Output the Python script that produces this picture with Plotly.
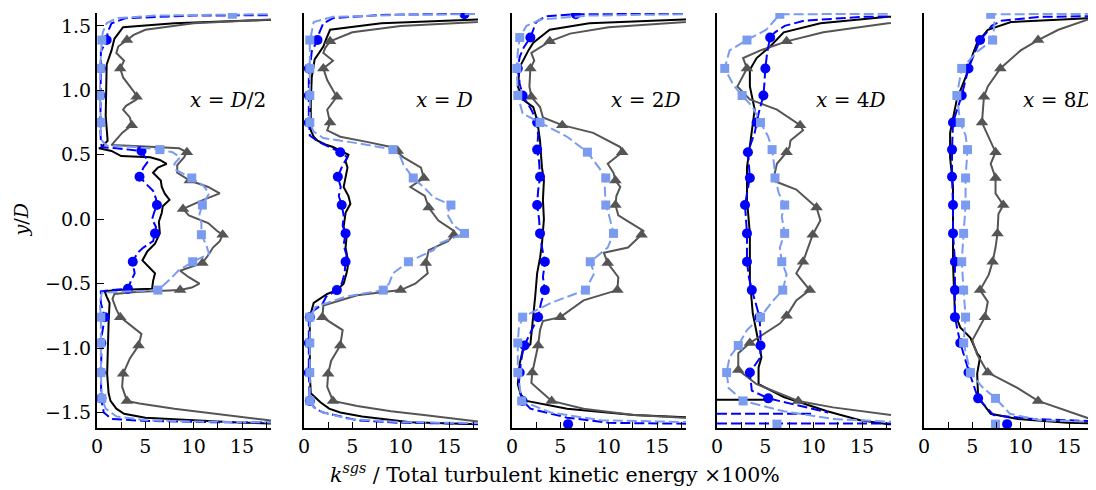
import plotly.graph_objects as go

# ---------------- data: (y/D, value) pairs ----------------
PANEL_LABELS = ["<i>x</i> = <i>D</i>/2", "<i>x</i> = <i>D</i>", "<i>x</i> = 2<i>D</i>",
                "<i>x</i> = 4<i>D</i>", "<i>x</i> = 8<i>D</i>"]
X_TICKS = [0, 5, 10, 15]
X_TICK_TEXT = ["0", "5", "10", "15"]
X_MINOR_TICKS = [2.5, 7.5, 12.5, 17.5]
Y_TICKS = [-1.5, -1.0, -0.5, 0.0, 0.5, 1.0, 1.5]
Y_TICK_TEXT = ["\u22121.5", "\u22121.0", "\u22120.5", "0.0", "0.5", "1.0", "1.5"]

# Panel 1: x = D/2
P1_BLACK = [(1.565, 22), (1.547, 18), (1.52, 8), (1.49, 2.7), (1.40, 1.8), (1.31, 1.5), (1.2, 1.0), (1.0, 0.95),
            (0.8, 0.9), (0.61, 1.1), (0.56, 0.5), (0.55, 0.2), (0.53, 1.5), (0.49, 2.5), (0.48, 5.5), (0.46, 6.5),
            (0.43, 7.2), (0.40, 6.3), (0.36, 5.8), (0.30, 6.6), (0.25, 6.7), (0.20, 7.0), (0.15, 7.5), (0.10, 6.8),
            (0.05, 6.7), (-0.02, 6.4), (-0.11, 6.5), (-0.19, 6.0), (-0.25, 5.2), (-0.32, 4.7), (-0.37, 5.3),
            (-0.42, 6.0), (-0.48, 5.8), (-0.54, 5.7), (-0.55, 2.0), (-0.56, 0.8), (-0.60, 1.0), (-0.65, 1.3),
            (-0.8, 1.2), (-1.0, 1.1), (-1.2, 1.05), (-1.35, 1.2), (-1.41, 1.4), (-1.47, 2.0), (-1.51, 2.8),
            (-1.54, 5.0), (-1.56, 9.6), (-1.575, 14), (-1.585, 18), (-1.59, 22)]
P1_GRAY = [(1.57, 22), (1.55, 18), (1.52, 10), (1.47, 5), (1.43, 3.8), (1.39, 3.1), (1.34, 2.2), (1.29, 2.0),
           (1.23, 2.8), (1.17, 2.4), (1.10, 2.7), (1.03, 3.4), (0.96, 4.1), (0.93, 4.1), (0.88, 3.0), (0.85, 2.7),
           (0.79, 3.4), (0.73, 3.6), (0.67, 2.6), (0.61, 1.9), (0.575, 1.5), (0.565, 5.0), (0.55, 8.5), (0.52, 9.3),
           (0.48, 9.0), (0.42, 8.3), (0.36, 8.3), (0.30, 9.6), (0.25, 11.5), (0.2, 12.7), (0.15, 11.0), (0.08, 8.9),
           (0.03, 9.5), (-0.03, 11.5), (-0.09, 12.4), (-0.12, 13.0), (-0.17, 12.7), (-0.22, 12.0), (-0.28, 11.5),
           (-0.34, 10.9), (-0.4, 8.6), (-0.45, 9.5), (-0.5, 10.6), (-0.53, 9.8), (-0.55, 8.6), (-0.565, 4.0),
           (-0.58, 1.8), (-0.62, 1.6), (-0.7, 2.0), (-0.76, 2.4), (-0.83, 3.6), (-0.89, 4.6), (-0.98, 4.3),
           (-1.08, 3.4), (-1.2, 2.7), (-1.3, 2.6), (-1.41, 3.1), (-1.43, 4.4), (-1.47, 8), (-1.5, 11.3),
           (-1.53, 15), (-1.56, 17.8), (-1.58, 22)]
P1_GRAY_MK = [(1.39, 3.1), (1.17, 2.4), (0.95, 4.1), (0.73, 3.6), (0.52, 9.3), (0.30, 9.6), (0.08, 8.9),
              (-0.12, 13.0), (-0.34, 10.9), (-0.55, 8.6), (-0.76, 2.4), (-0.98, 4.3), (-1.2, 2.7), (-1.41, 3.1)]
P1_BLUE = [(1.585, 22), (1.58, 10), (1.56, 3), (1.52, 1.5), (1.45, 1.1), (1.39, 1.0), (1.3, 0.4), (1.0, 0.35),
           (0.7, 0.35), (0.6, 0.4), (0.56, 0.5), (0.55, 2.0), (0.53, 4.6), (0.50, 4.8), (0.45, 5.3), (0.40, 4.8),
           (0.33, 4.4), (0.28, 5.0), (0.22, 5.8), (0.16, 6.1), (0.11, 6.2), (0.05, 5.9), (0.0, 5.7), (-0.06, 6.1),
           (-0.11, 6.0), (-0.17, 5.8), (-0.22, 4.8), (-0.26, 4.2), (-0.33, 3.7), (-0.38, 3.8), (-0.42, 3.9),
           (-0.48, 3.5), (-0.54, 3.2), (-0.55, 1.5), (-0.56, 0.4), (-0.65, 0.4), (-0.76, 0.8), (-0.9, 0.5),
           (-1.2, 0.4), (-1.4, 0.45), (-1.5, 0.7), (-1.55, 1.5), (-1.565, 5), (-1.575, 12), (-1.58, 22)]
P1_BLUE_MK = [(1.39, 1.0), (1.17, 0.4), (0.96, 0.35), (0.75, 0.35), (0.53, 4.6), (0.33, 4.4), (0.11, 6.2),
              (-0.11, 6.0), (-0.33, 3.7), (-0.54, 3.2), (-0.76, 0.8), (-0.96, 0.45), (-1.19, 0.4), (-1.39, 0.45)]
P1_LIGHT = [(1.595, 22), (1.59, 14), (1.58, 6), (1.56, 2), (1.52, 1.0), (1.45, 0.6), (1.39, 0.5), (1.2, 0.35),
            (0.96, 0.3), (0.75, 0.4), (0.62, 0.4), (0.57, 1.0), (0.56, 4.0), (0.54, 6.5), (0.52, 7.8), (0.48, 8.6),
            (0.43, 8.0), (0.38, 8.2), (0.32, 9.8), (0.26, 11.0), (0.2, 11.6), (0.15, 11.2), (0.11, 10.9),
            (0.04, 10.6), (-0.03, 10.8), (-0.12, 10.8), (-0.2, 11.3), (-0.27, 11.6), (-0.33, 9.9), (-0.4, 8.4),
            (-0.47, 7.5), (-0.55, 6.3), (-0.56, 3.0), (-0.57, 0.5), (-0.65, 0.3), (-0.76, 0.4), (-0.96, 0.4),
            (-1.19, 0.4), (-1.39, 0.5), (-1.47, 0.9), (-1.53, 2.0), (-1.56, 5), (-1.57, 10), (-1.58, 22)]
P1_LIGHT_MK = [(1.59, 14), (1.39, 0.5), (1.17, 0.35), (0.96, 0.3), (0.75, 0.4), (0.54, 6.5), (0.32, 9.8),
               (0.11, 10.9), (-0.12, 10.8), (-0.33, 9.9), (-0.55, 6.3), (-0.76, 0.4), (-0.96, 0.4), (-1.19, 0.4),
               (-1.39, 0.5)]

# Panel 2: x = D
P2_BLACK = [(1.565, 22), (1.55, 18), (1.52, 8), (1.47, 2.7), (1.40, 2.3), (1.34, 2.0), (1.24, 1.1), (1.1, 0.8),
            (0.9, 0.7), (0.69, 0.7), (0.64, 1.0), (0.61, 1.4), (0.58, 2.2), (0.56, 3.0), (0.50, 4.6), (0.45, 4.3),
            (0.40, 4.5), (0.32, 4.3), (0.25, 4.1), (0.18, 4.6), (0.12, 4.8), (0.05, 4.3), (-0.06, 4.1),
            (-0.14, 4.4), (-0.22, 4.3), (-0.34, 4.6), (-0.42, 4.4), (-0.5, 4.1), (-0.55, 3.4), (-0.58, 2.4),
            (-0.62, 1.6), (-0.65, 1.0), (-0.76, 0.6), (-1.0, 0.6), (-1.2, 0.6), (-1.35, 0.7), (-1.42, 1.7),
            (-1.47, 2.6), (-1.5, 3.75), (-1.53, 6.0), (-1.55, 8.2), (-1.575, 11), (-1.59, 18), (-1.595, 22)]
P2_GRAY = [(1.57, 22), (1.53, 18), (1.50, 10), (1.45, 5), (1.38, 2.7), (1.33, 2.2), (1.29, 2.0), (1.23, 3.0),
           (1.17, 2.0), (1.08, 2.4), (1.0, 3.0), (0.95, 3.4), (0.85, 2.4), (0.75, 2.7), (0.69, 2.4), (0.64, 3.75),
           (0.60, 6.5), (0.56, 9.0), (0.48, 10.3), (0.40, 12.1), (0.32, 12.4), (0.25, 11.0), (0.18, 12.5),
           (0.09, 12.9), (-0.01, 13.9), (-0.09, 15.5), (-0.12, 15.5), (-0.17, 14.9), (-0.24, 12.9), (-0.34, 12.6),
           (-0.42, 12.8), (-0.5, 11.5), (-0.55, 10.0), (-0.59, 5.5), (-0.67, 2.0), (-0.76, 1.9), (-0.86, 4.0),
           (-0.98, 3.75), (-1.1, 2.8), (-1.2, 2.5), (-1.3, 2.4), (-1.41, 3.0), (-1.45, 5.5), (-1.49, 9),
           (-1.52, 12.4), (-1.57, 18), (-1.585, 22)]
P2_GRAY_MK = [(1.38, 2.7), (1.17, 2.0), (0.95, 3.4), (0.75, 2.7), (0.53, 9.7), (0.32, 12.4), (0.09, 12.9),
              (-0.12, 15.5), (-0.34, 12.6), (-0.55, 10.0), (-0.76, 1.9), (-0.98, 3.75), (-1.2, 2.5), (-1.41, 3.0)]
P2_BLUE = [(1.60, 22), (1.595, 16.6), (1.585, 8), (1.56, 3), (1.52, 2.0), (1.45, 1.6), (1.39, 1.4), (1.3, 0.8),
           (1.1, 0.5), (0.8, 0.5), (0.65, 0.6), (0.6, 1.5), (0.56, 2.6), (0.52, 3.75), (0.48, 4.5), (0.42, 4.0),
           (0.33, 3.5), (0.25, 3.8), (0.18, 3.6), (0.11, 3.9), (0.03, 4.1), (-0.05, 4.0), (-0.11, 4.3),
           (-0.2, 4.1), (-0.28, 4.4), (-0.33, 4.3), (-0.42, 4.2), (-0.5, 3.9), (-0.55, 3.4), (-0.6, 2.3),
           (-0.66, 1.9), (-0.72, 0.8), (-0.8, 0.5), (-1.2, 0.5), (-1.42, 0.6), (-1.47, 1.2), (-1.5, 2.0),
           (-1.56, 5.5), (-1.58, 10), (-1.59, 22)]
P2_BLUE_MK = [(1.59, 16.6), (1.39, 1.4), (1.17, 0.5), (0.96, 0.5), (0.75, 0.5), (0.52, 3.75), (0.33, 3.5),
              (0.11, 3.9), (-0.11, 4.3), (-0.33, 4.3), (-0.55, 3.4), (-0.76, 0.6), (-0.96, 0.5), (-1.19, 0.5),
              (-1.41, 0.6)]
P2_LIGHT = [(1.595, 22), (1.585, 10), (1.57, 3), (1.53, 1.0), (1.45, 0.8), (1.39, 0.6), (1.17, 0.6), (0.96, 0.6),
            (0.75, 0.6), (0.68, 1.0), (0.63, 2.0), (0.59, 5.5), (0.54, 9.2), (0.48, 10.0), (0.42, 10.3),
            (0.32, 11.3), (0.24, 12.5), (0.17, 13.4), (0.11, 15.2), (0.04, 14.8), (-0.05, 15.5), (-0.11, 16.6),
            (-0.19, 13.9), (-0.24, 13.4), (-0.33, 10.8), (-0.42, 9.2), (-0.5, 8.8), (-0.55, 8.2), (-0.6, 4.4),
            (-0.68, 1.2), (-0.76, 0.6), (-0.96, 0.6), (-1.19, 0.6), (-1.41, 0.6), (-1.46, 1.0), (-1.5, 2.0),
            (-1.55, 4.7), (-1.575, 10), (-1.585, 22)]
P2_LIGHT_MK = [(1.39, 0.6), (1.17, 0.6), (0.96, 0.6), (0.75, 0.6), (0.54, 9.2), (0.32, 11.3), (0.11, 15.2),
               (-0.11, 16.6), (-0.33, 10.8), (-0.55, 8.2), (-0.76, 0.6), (-0.96, 0.6), (-1.19, 0.6), (-1.41, 0.6)]

# Panel 3: x = 2D
P3_BLACK = [(1.56, 22), (1.55, 17.8), (1.52, 8), (1.47, 3.9), (1.37, 2.2), (1.31, 1.7), (1.18, 0.8), (1.03, 0.6),
            (0.93, 1.1), (0.87, 2.2), (0.77, 2.6), (0.61, 2.9), (0.5, 3.0), (0.4, 3.1), (0.3, 3.3), (0.15, 3.2),
            (0.0, 3.3), (-0.11, 3.2), (-0.19, 3.1), (-0.3, 2.9), (-0.42, 2.6), (-0.6, 2.4), (-0.76, 2.2),
            (-0.9, 2.0), (-0.97, 1.9), (-1.02, 1.1), (-1.12, 0.8), (-1.28, 0.6), (-1.36, 0.9), (-1.41, 1.5),
            (-1.47, 5.7), (-1.52, 12.6), (-1.54, 17.8), (-1.55, 22)]
P3_GRAY = [(1.55, 22), (1.53, 17.8), (1.49, 10), (1.44, 6), (1.38, 3.9), (1.29, 2.0), (1.23, 2.3), (1.17, 1.9),
           (1.03, 1.8), (0.95, 2.0), (0.87, 2.9), (0.79, 3.2), (0.73, 5.2), (0.67, 8.4), (0.6, 10.2), (0.56, 11.2),
           (0.52, 11.4), (0.43, 9.9), (0.36, 10.5), (0.30, 10.7), (0.25, 11.2), (0.18, 10.8), (0.11, 10.7),
           (0.03, 11.0), (-0.09, 13.6), (-0.12, 13.4), (-0.22, 12.0), (-0.26, 9.5), (-0.34, 9.9), (-0.45, 11.0),
           (-0.55, 10.9), (-0.63, 7.4), (-0.76, 5.0), (-0.79, 3.2), (-0.86, 2.9), (-0.98, 2.7), (-1.19, 2.1),
           (-1.27, 2.0), (-1.35, 3.2), (-1.41, 4.1), (-1.47, 7.4), (-1.52, 12.6), (-1.54, 17.8), (-1.55, 22)]
P3_GRAY_MK = [(1.38, 3.9), (1.17, 1.9), (0.95, 2.0), (0.73, 5.2), (0.52, 11.4), (0.30, 10.7), (0.11, 10.7),
              (-0.12, 13.4), (-0.34, 9.9), (-0.55, 10.9), (-0.76, 5.0), (-0.98, 2.7), (-1.19, 2.1), (-1.41, 4.1)]
P3_BLUE = [(1.595, 22), (1.59, 6.6), (1.575, 3.5), (1.53, 2.5), (1.45, 2.1), (1.41, 1.9), (1.33, 1.2),
           (1.26, 0.8), (1.17, 0.6), (1.05, 0.8), (0.96, 1.1), (0.85, 2.0), (0.75, 2.6), (0.65, 2.7), (0.54, 2.6),
           (0.45, 2.8), (0.33, 2.9), (0.22, 2.7), (0.11, 2.6), (0.0, 2.8), (-0.11, 2.9), (-0.22, 3.1),
           (-0.33, 3.4), (-0.45, 3.2), (-0.55, 3.4), (-0.65, 3.0), (-0.76, 2.7), (-0.9, 1.8), (-0.99, 1.2),
           (-1.12, 0.9), (-1.28, 0.7), (-1.4, 1.0), (-1.47, 1.9), (-1.54, 5.7), (-1.58, 10), (-1.59, 22)]
P3_BLUE_MK = [(1.59, 6.6), (1.41, 1.9), (1.17, 0.6), (0.96, 1.1), (0.75, 2.6), (0.54, 2.6), (0.33, 2.9),
              (0.11, 2.6), (-0.11, 2.9), (-0.33, 3.4), (-0.55, 3.4), (-0.76, 2.7), (-0.98, 1.3), (-1.19, 0.8),
              (-1.41, 1.1), (-1.59, 5.8)]
P3_LIGHT = [(1.595, 22), (1.58, 8), (1.55, 3), (1.5, 1.5), (1.41, 0.8), (1.3, 0.6), (1.17, 0.5), (0.96, 0.6),
            (0.82, 1.1), (0.75, 2.9), (0.64, 5.7), (0.52, 7.8), (0.40, 9.0), (0.32, 9.7), (0.24, 9.6),
            (0.11, 9.7), (0.04, 10.0), (-0.11, 10.5), (-0.22, 9.9), (-0.33, 8.1), (-0.42, 8.5), (-0.55, 7.6),
            (-0.65, 4.0), (-0.76, 1.1), (-0.85, 0.7), (-0.96, 0.6), (-1.19, 0.6), (-1.41, 1.0), (-1.5, 4.0),
            (-1.56, 9.2), (-1.58, 22)]
P3_LIGHT_MK = [(1.41, 0.8), (1.17, 0.5), (0.96, 0.6), (0.75, 2.9), (0.52, 7.8), (0.32, 9.7), (0.11, 9.7),
               (-0.11, 10.5), (-0.33, 8.1), (-0.55, 7.6), (-0.76, 1.1), (-0.96, 0.6), (-1.19, 0.6), (-1.41, 1.0)]

# Panel 4: x = 4D
P4_BLACK = [(1.58, 22), (1.57, 17.7), (1.52, 10.7), (1.45, 6.9), (1.34, 5.5), (1.25, 4.1), (1.16, 3.4),
            (1.03, 3.4), (0.85, 3.9), (0.67, 3.6), (0.4, 3.1), (0.15, 3.1), (-0.11, 3.4), (-0.24, 3.4),
            (-0.47, 3.4), (-0.73, 3.7), (-0.94, 4.3), (-1.07, 4.6), (-1.15, 4.3), (-1.28, 4.3), (-1.38, 6.9),
            (-1.49, 11.4), (-1.56, 14.8), (-1.59, 17.7), (-1.6, 22), (None, None), (-1.40, 0.0), (-1.40, 5.0)]
P4_GRAY = [(1.55, 22), (1.52, 17.7), (1.45, 11), (1.38, 7.2), (1.31, 4.5), (1.25, 2.7), (1.17, 3.1), (1.08, 2.4),
           (1.03, 2.1), (0.93, 3.4), (0.85, 6.2), (0.73, 8.6), (0.69, 8.9), (0.61, 7.6), (0.56, 7.5), (0.52, 7.2),
           (0.43, 6.2), (0.30, 5.8), (0.23, 8.2), (0.09, 10.3), (-0.01, 10.7), (-0.12, 9.9), (-0.24, 9.3),
           (-0.33, 8.9), (-0.42, 8.2), (-0.55, 9.6), (-0.63, 8.2), (-0.75, 7.2), (-0.81, 6.5), (-0.96, 3.4),
           (-1.04, 2.2), (-1.17, 2.2), (-1.28, 4.1), (-1.41, 8.4), (-1.46, 12.0), (-1.52, 18), (-1.54, 22)]
P4_GRAY_MK = [(1.38, 7.2), (1.17, 3.1), (0.73, 8.6), (0.52, 7.2), (0.09, 10.3), (-0.12, 9.9), (-0.33, 8.9),
              (-0.55, 9.6), (-0.75, 7.2), (-0.96, 3.4), (-1.17, 2.2), (-1.41, 8.4)]
P4_BLUE = [(1.58, 22), (1.57, 15), (1.54, 9), (1.5, 7), (1.45, 6), (1.41, 5.5), (1.3, 5.2), (1.17, 5.0),
           (1.05, 4.9), (0.96, 4.8), (0.82, 4.3), (0.67, 3.9), (0.52, 3.2), (0.42, 3.3), (0.32, 3.4), (0.2, 3.1),
           (0.11, 2.9), (-0.11, 3.1), (-0.33, 3.1), (-0.45, 3.3), (-0.55, 3.6), (-0.65, 4.0), (-0.76, 4.4),
           (-0.9, 4.5), (-1.07, 4.5), (-1.19, 3.4), (-1.33, 3.6), (-1.39, 5.3), (-1.45, 8.6), (-1.5, 11.5),
           (None, None), (-1.51, 0.0), (-1.51, 10.0), (None, None), (-1.585, 0.0), (-1.585, 18)]
P4_BLUE_MK = [(1.41, 5.5), (1.17, 5.0), (0.96, 4.8), (0.75, 4.1), (0.52, 3.2), (0.32, 3.4), (0.11, 2.9),
              (-0.11, 3.1), (-0.33, 3.1), (-0.55, 3.6), (-0.76, 4.4), (-0.98, 4.5), (-1.19, 3.4), (-1.39, 5.3)]
P4_LIGHT = [(1.595, 22), (1.59, 6.5), (1.53, 5.8), (1.47, 5.1), (1.39, 3.1), (1.31, 1.3), (1.17, 0.8),
            (1.04, 1.7), (0.96, 2.6), (0.87, 3.7), (0.75, 4.5), (0.64, 5.3), (0.54, 5.7), (0.43, 5.9),
            (0.32, 6.0), (0.2, 6.4), (0.11, 7.0), (0.02, 6.7), (-0.11, 7.0), (-0.22, 6.5), (-0.33, 6.7),
            (-0.43, 7.2), (-0.55, 6.8), (-0.64, 5.7), (-0.76, 4.5), (-0.86, 3.1), (-0.98, 2.2), (-1.07, 1.3),
            (-1.19, 1.0), (-1.31, 1.2), (-1.41, 2.7), (-1.49, 6.9), (-1.55, 12.0), (-1.58, 18), (-1.585, 22)]
P4_LIGHT_MK = [(1.59, 6.5), (1.39, 3.1), (1.17, 0.8), (0.96, 2.6), (0.75, 4.5), (0.54, 5.7), (0.32, 6.0),
               (0.11, 7.0), (-0.11, 7.0), (-0.33, 6.7), (-0.55, 6.8), (-0.76, 4.5), (-0.98, 2.2), (-1.19, 1.0),
               (-1.41, 2.7), (-1.59, 6.2)]

# Panel 5: x = 8D
P5_BLACK = [(1.57, 22), (1.56, 17.0), (1.53, 9.0), (1.47, 6.6), (1.37, 5.5), (1.29, 5.1), (1.10, 4.3),
            (0.93, 3.4), (0.67, 2.7), (0.48, 2.7), (0.25, 3.0), (0.05, 3.0), (-0.18, 3.0), (-0.34, 3.0),
            (-0.73, 3.2), (-0.84, 3.75), (-0.92, 4.8), (-1.04, 5.5), (-1.07, 5.8), (-1.2, 5.5), (-1.38, 5.6),
            (-1.51, 6.9), (-1.55, 9.7), (-1.58, 14.8), (-1.59, 22)]
P5_GRAY = [(1.57, 22), (1.55, 17), (1.47, 13.9), (1.39, 11.8), (1.31, 10.0), (1.17, 7.9), (1.03, 6.6),
           (0.95, 6.2), (0.75, 6.0), (0.61, 6.9), (0.52, 7.4), (0.43, 6.9), (0.32, 7.4), (0.2, 7.4), (0.11, 8.2),
           (0.04, 7.7), (-0.11, 7.6), (-0.22, 7.4), (-0.33, 7.1), (-0.43, 6.7), (-0.55, 5.8), (-0.64, 6.6),
           (-0.76, 6.3), (-0.94, 5.0), (-1.05, 5.5), (-1.19, 6.6), (-1.31, 9.7), (-1.41, 11.8), (-1.49, 14.8),
           (-1.56, 17.6), (-1.58, 22)]
P5_GRAY_MK = [(1.39, 11.8), (1.17, 7.9), (0.95, 6.2), (0.75, 6.0), (0.52, 7.4), (0.32, 7.4), (0.11, 8.2),
              (-0.11, 7.6), (-0.33, 7.1), (-0.55, 5.8), (-0.76, 6.3), (-1.19, 6.6), (-1.41, 11.8)]
P5_BLUE = [(1.58, 22), (1.57, 12), (1.54, 8), (1.5, 7.0), (1.45, 6.5), (1.39, 5.8), (1.3, 5.3), (1.17, 4.6),
           (0.96, 3.9), (0.75, 3.0), (0.54, 2.9), (0.33, 2.9), (0.11, 3.0), (-0.11, 3.0), (-0.33, 3.2),
           (-0.55, 3.2), (-0.76, 3.2), (-0.96, 3.75), (-1.17, 4.6), (-1.39, 5.6), (-1.52, 7.2), (-1.55, 11.3),
           (-1.575, 18), (-1.58, 22)]
P5_BLUE_MK = [(1.39, 5.8), (1.17, 4.6), (0.96, 3.9), (0.75, 3.0), (0.54, 2.9), (0.33, 2.9), (0.11, 3.0),
              (-0.11, 3.0), (-0.33, 3.2), (-0.55, 3.2), (-0.76, 3.2), (-0.96, 3.75), (-1.19, 4.6), (-1.39, 5.6),
              (-1.59, 8.6)]
P5_LIGHT = [(1.595, 22), (1.59, 6.9), (1.52, 7.3), (1.45, 7.2), (1.39, 7.1), (1.3, 5.5), (1.17, 3.9),
            (0.96, 3.4), (0.75, 3.75), (0.65, 4.3), (0.54, 4.5), (0.32, 4.3), (0.11, 4.3), (-0.11, 4.1),
            (-0.33, 3.9), (-0.55, 4.1), (-0.76, 4.3), (-0.96, 4.1), (-1.19, 4.8), (-1.3, 6.0), (-1.39, 7.4),
            (-1.51, 8.9), (-1.56, 12), (-1.58, 22)]
P5_LIGHT_MK = [(1.59, 6.9), (1.39, 7.1), (1.17, 3.9), (0.96, 3.4), (0.75, 3.75), (0.54, 4.5), (0.32, 4.3),
               (0.11, 4.3), (-0.11, 4.1), (-0.33, 3.9), (-0.55, 4.1), (-0.76, 4.3), (-0.96, 4.1), (-1.19, 4.8),
               (-1.39, 7.4), (-1.59, 7.4)]

PANELS = [
    (P1_BLACK, P1_GRAY, P1_GRAY_MK, P1_BLUE, P1_BLUE_MK, P1_LIGHT, P1_LIGHT_MK),
    (P2_BLACK, P2_GRAY, P2_GRAY_MK, P2_BLUE, P2_BLUE_MK, P2_LIGHT, P2_LIGHT_MK),
    (P3_BLACK, P3_GRAY, P3_GRAY_MK, P3_BLUE, P3_BLUE_MK, P3_LIGHT, P3_LIGHT_MK),
    (P4_BLACK, P4_GRAY, P4_GRAY_MK, P4_BLUE, P4_BLUE_MK, P4_LIGHT, P4_LIGHT_MK),
    (P5_BLACK, P5_GRAY, P5_GRAY_MK, P5_BLUE, P5_BLUE_MK, P5_LIGHT, P5_LIGHT_MK),
]

# ---------------- styling ----------------
# the page body has an 8px default margin, so the figure is laid out 8px smaller/offset
PAGE_PAD = 8
WIN_W, WIN_H = 1096, 490
W, H = WIN_W - PAGE_PAD, WIN_H - PAGE_PAD
ML, MR, MT, MB = 97 - PAGE_PAD, 0, 13 - PAGE_PAD, 62
PANEL_LEFT_PX = [97, 304, 512, 717, 924]
PANEL_W_PX = 174
XMAX = 18.0
Y_RANGE = [-1.62, 1.60]
FONT = "DejaVu Serif"
FS = 19
BLACK = "#000000"
GRAY = "#555555"
BLUE = "#0000ff"
LIGHT = "#7b9bf0"
LW = 2.0
DASH = "10px,4px"


def xy(pairs):
    xs = [p[1] for p in pairs]
    ys = [p[0] for p in pairs]
    return xs, ys


fig = go.Figure()
plot_w = W - ML - MR
plot_h = H - MT - MB
for i, (blk, gry, gry_mk, blu, blu_mk, lgt, lgt_mk) in enumerate(PANELS):
    n = "" if i == 0 else str(i + 1)
    xa, ya = "x" + n, "y" + n

    def add_line(pairs, color, dash=None):
        xs, ys = xy(pairs)
        fig.add_trace(go.Scatter(x=xs, y=ys, mode="lines", xaxis=xa, yaxis=ya, showlegend=False,
                                 line=dict(color=color, width=LW, dash=dash), connectgaps=False,
                                 hoverinfo="skip"))

    def add_marks(pairs, color, symbol, size):
        xs, ys = xy(pairs)
        fig.add_trace(go.Scatter(x=xs, y=ys, mode="markers", xaxis=xa, yaxis=ya, showlegend=False,
                                 marker=dict(color=color, symbol=symbol, size=size, line=dict(width=0)),
                                 hoverinfo="skip"))

    add_line(blk, BLACK)
    add_line(gry, GRAY)
    add_marks(gry_mk, GRAY, "triangle-up", 11)
    add_line(blu, BLUE, DASH)
    add_marks(blu_mk, BLUE, "circle", 10)
    add_line(lgt, LIGHT, DASH)
    add_marks(lgt_mk, LIGHT, "square", 9)

    left = PANEL_LEFT_PX[i] - 97
    right = min(left + PANEL_W_PX, plot_w)
    xmax = XMAX * (right - left) / PANEL_W_PX
    xaxis = dict(domain=[left / plot_w, right / plot_w], range=[0, xmax], anchor=ya, automargin=False,
                 tickmode="array", tickvals=X_TICKS, ticktext=X_TICK_TEXT, ticks="inside", ticklen=6,
                 tickwidth=1.3, tickcolor="black", showline=True, linecolor="black", linewidth=2,
                 showgrid=False, zeroline=False, tickfont=dict(family=FONT, size=FS, color="black"),
                 minor=dict(tickmode="array", tickvals=X_MINOR_TICKS, ticks="inside", ticklen=6,
                            tickwidth=1.3, tickcolor="black", showgrid=False))
    yaxis = dict(domain=[0, 1], range=Y_RANGE, anchor=xa, automargin=False, showline=True, linecolor="black",
                 linewidth=2, showgrid=False, zeroline=False)
    if i == 0:
        yaxis.update(tickmode="array", tickvals=Y_TICKS, ticktext=Y_TICK_TEXT, ticks="inside", ticklen=7,
                     tickwidth=1.3, tickcolor="black", tickfont=dict(family=FONT, size=FS, color="black"))
    else:
        yaxis.update(ticks="", showticklabels=False)
    fig.layout["xaxis" + n] = xaxis
    fig.layout["yaxis" + n] = yaxis
    fig.add_annotation(x=17.7, y=0.925, xref=xa, yref=ya, text=PANEL_LABELS[i], showarrow=False,
                       xanchor="right", yanchor="middle", font=dict(family=FONT, size=20, color="black"))

fig.add_annotation(x=(555 - 97) / plot_w, y=-(473 - 428) / plot_h, xref="paper", yref="paper",
                   text="<i>k</i><sup><i>sgs</i></sup> / Total turbulent kinetic energy \u00d7100%",
                   showarrow=False, xanchor="center", yanchor="middle",
                   font=dict(family=FONT, size=20.5, color="black"))
fig.add_annotation(x=(20 - 97) / plot_w, y=0.5, xref="paper", yref="paper", text="<i>y</i>/<i>D</i>",
                   showarrow=False, textangle=-90, xanchor="center", yanchor="middle",
                   font=dict(family=FONT, size=FS, color="black"))

fig.update_layout(width=W, height=H, margin=dict(l=ML, r=MR, t=MT, b=MB, pad=0),
                  paper_bgcolor="white", plot_bgcolor="white", showlegend=False)
fig.write_html("out.html")
